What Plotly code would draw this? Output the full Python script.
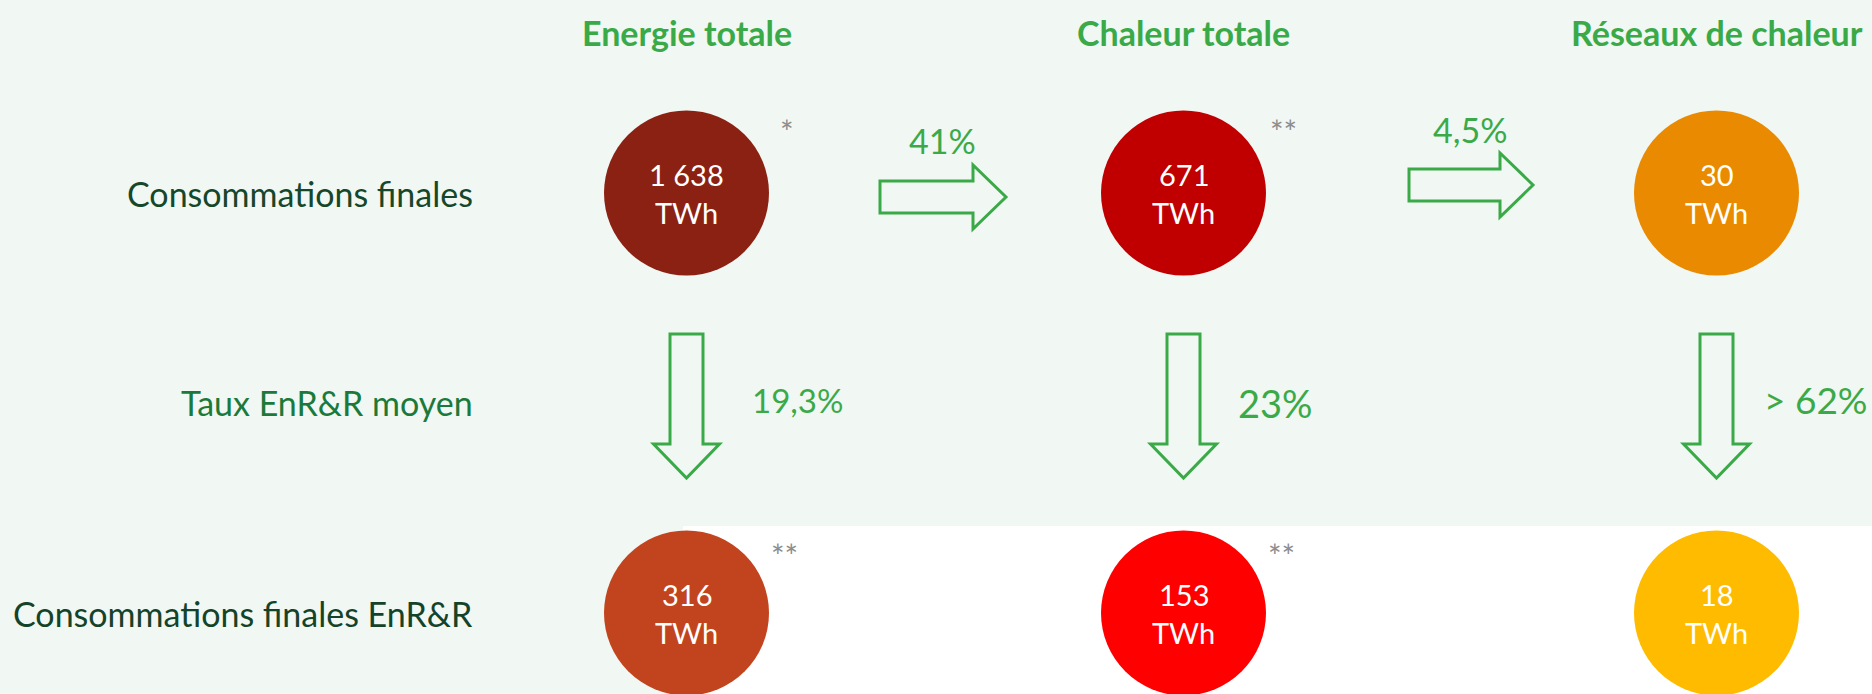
import plotly.graph_objects as go

# ---------------- data ----------------
columns = ["Energie totale", "Chaleur totale", "Réseaux de chaleur"]
conso_finales_twh = [1638, 671, 30]
conso_enrr_twh = [316, 153, 18]
taux_enrr = ["19,3%", "23%", "> 62%"]
part_passage = ["41%", "4,5%"]
row_labels = ["Consommations finales", "Taux EnR&R moyen", "Consommations finales EnR&R"]
notes_finales = ["*", "**", ""]
notes_enrr = ["**", "**", ""]

# ---------------- layout / style ----------------
W, H = 1872, 694
FONT = "Lato, 'Open Sans', sans-serif"
BG = "#F1F7F3"
GREEN = "#3AAA48"
COL_X = [686.5, 1183.5, 1716.5]
ROW_Y = [193, 402, 613]
DIAM = 165
TOP_COLORS = ["#8A2113", "#C00000", "#E98A00"]
BOT_COLORS = ["#C2441E", "#FF0000", "#FFBB00"]
LABEL_COLORS = ["#16472B", "#1B7A3A", "#15432A"]


def fr(v):
    return f"{v:,}".replace(",", " ")


fig = go.Figure()

# background (light green L-shape, bottom right white)
shapes = [
    dict(type="path", xref="x", yref="y", layer="below", line=dict(width=0), fillcolor=BG,
         path=f"M-5,-5 L{W+5},-5 L{W+5},526 L683,526 L683,{H+5} L-5,{H+5} Z"),
]

# right arrows between columns
RIGHT_ARROWS = [(880, 1006, 197), (1409, 1533, 185)]
for x0, x1, yc in RIGHT_ARROWS:
    hb = x1 - 33
    p = (f"M{x0},{yc-16} L{hb},{yc-16} L{hb},{yc-32} L{x1},{yc} L{hb},{yc+32} "
         f"L{hb},{yc+16} L{x0},{yc+16} Z")
    shapes.append(dict(type="path", xref="x", yref="y", path=p,
                       line=dict(color=GREEN, width=3), fillcolor="rgba(0,0,0,0)"))

# down arrows
for xc in COL_X:
    y0, y1 = 334, 478
    hb = y1 - 34
    p = (f"M{xc-16.5},{y0} L{xc+16.5},{y0} L{xc+16.5},{hb} L{xc+33},{hb} L{xc},{y1} "
         f"L{xc-33},{hb} L{xc-16.5},{hb} Z")
    shapes.append(dict(type="path", xref="x", yref="y", path=p,
                       line=dict(color=GREEN, width=3), fillcolor="rgba(0,0,0,0)"))

# circles
fig.add_trace(go.Scatter(x=COL_X, y=[ROW_Y[0]] * 3, mode="markers",
                         marker=dict(size=DIAM, color=TOP_COLORS, line=dict(width=0)),
                         customdata=conso_finales_twh, hoverinfo="skip", showlegend=False,
                         cliponaxis=False))
fig.add_trace(go.Scatter(x=COL_X, y=[ROW_Y[2]] * 3, mode="markers",
                         marker=dict(size=DIAM, color=BOT_COLORS, line=dict(width=0)),
                         customdata=conso_enrr_twh, hoverinfo="skip", showlegend=False))

ann = []
# column titles
for x, t in zip(COL_X, columns):
    ann.append(dict(x=x, y=32, text=f"<b>{t}</b>", font=dict(size=34, color=GREEN, family=FONT)))

# row labels
for y, t, c in zip(ROW_Y, row_labels, LABEL_COLORS):
    ann.append(dict(x=475, y=y, text=t, xanchor="right", font=dict(size=34, color=c, family=FONT)))

# circle values
for x, v in zip(COL_X, conso_finales_twh):
    ann.append(dict(x=x, y=ROW_Y[0] - 19, text=fr(v), font=dict(size=29, color="white", family=FONT)))
    ann.append(dict(x=x, y=ROW_Y[0] + 19, text="TWh", font=dict(size=29, color="white", family=FONT)))
for x, v in zip(COL_X, conso_enrr_twh):
    ann.append(dict(x=x, y=ROW_Y[2] - 19, text=fr(v), font=dict(size=29, color="white", family=FONT)))
    ann.append(dict(x=x, y=ROW_Y[2] + 19, text="TWh", font=dict(size=29, color="white", family=FONT)))

# notes (asterisks)
for x, n in zip(COL_X, notes_finales):
    if n:
        ann.append(dict(x=x + 100, y=131, text=n, font=dict(size=32, color="#8C8C8C", family=FONT)))
for x, n in zip(COL_X, notes_enrr):
    if n:
        ann.append(dict(x=x + 98, y=555, text=n, font=dict(size=32, color="#8C8C8C", family=FONT)))

# transfer percentages
PART_POS = [(942, 140), (1470, 129)]
for (x, y), t in zip(PART_POS, part_passage):
    ann.append(dict(x=x, y=y, text=t, font=dict(size=34, color=GREEN, family=FONT)))

# EnR&R rates
TAUX_POS = [(797, 400, 33), (1275, 403, 38), (1816, 399, 37)]
for (x, y, s), t in zip(TAUX_POS, taux_enrr):
    ann.append(dict(x=x, y=y, text=t, font=dict(size=s, color=GREEN, family=FONT)))

for a in ann:
    a.setdefault("xanchor", "center")
    a.update(xref="x", yref="y", yanchor="middle", showarrow=False)

fig.update_layout(
    width=W, height=H, margin=dict(l=0, r=0, t=0, b=0),
    paper_bgcolor="white", plot_bgcolor="rgba(0,0,0,0)",
    xaxis=dict(range=[0, W], visible=False, fixedrange=True),
    yaxis=dict(range=[H, 0], visible=False, fixedrange=True),
    shapes=shapes, annotations=ann, showlegend=False,
)

fig.write_html("out.html", config={"displayModeBar": False},
               post_script="document.body.style.margin='0px';")
